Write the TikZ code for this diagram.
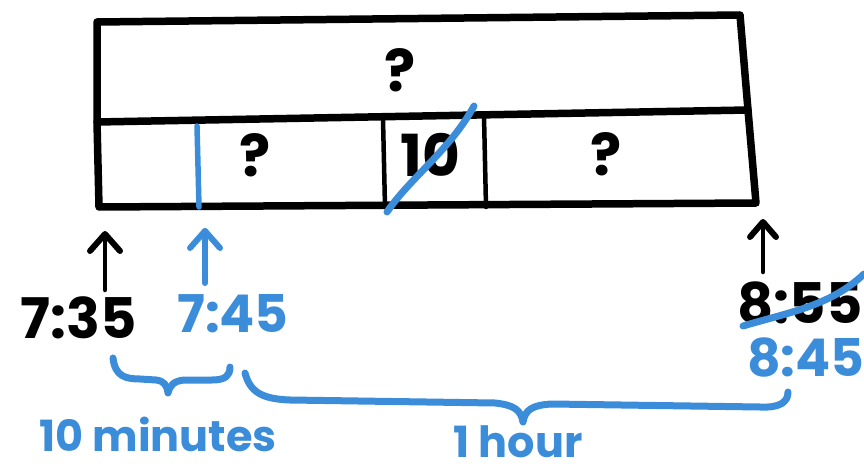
\documentclass[tikz,border=0pt]{standalone}
\usepackage{fontspec}
\setmainfont{Poppins}
\definecolor{mblue}{RGB}{59,140,217}
\begin{document}
\begin{tikzpicture}[x=1pt,y=-1pt,line cap=round,line join=round,
  frame/.style={line width=7.5pt,black},
  divider/.style={line width=4.5pt,black},
  bluepen/.style={mblue,line width=7pt},
  arrowpen/.style={line width=4.5pt},
  qtext/.style={font=\fontsize{58}{58}\selectfont\bfseries,inner sep=0pt},
  timeblack/.style={font=\fontsize{56}{56}\selectfont\bfseries,inner sep=0pt,black},
  timeblue/.style={font=\fontsize{52}{52}\selectfont\bfseries,inner sep=0pt,mblue},
  note/.style={font=\fontsize{43}{43}\selectfont\bfseries,inner sep=0pt,mblue}]
\useasboundingbox (0,0) rectangle (864,473);
% corners of the bar
\coordinate (TL) at (97,22);
\coordinate (TR) at (740,15);
\coordinate (ML) at (97,122);
\coordinate (MR) at (748,110);
\coordinate (BL) at (99,207);
\coordinate (BR) at (756,203);
\draw[frame] (TL) -- (TR) -- (MR) -- (BR) -- (BL) -- (ML) -- cycle;
\draw[frame] (ML) -- (MR);
% dividers
\coordinate (d1t) at (383,119);
\coordinate (d1b) at (385,207);
\coordinate (d2t) at (484,116);
\coordinate (d2b) at (486,207);
\draw[divider] (d1t) -- (d1b);
\draw[divider] (d2t) -- (d2b);
\coordinate (bdt) at (197,126);
\coordinate (bdb) at (199,207);
\draw[bluepen,line width=5.5pt] (bdt) -- (bdb);
% texts in bar
\node[qtext] (qtop) at (400,70) {?};
\node[qtext] (q1) at (255,155) {?};
\node[qtext] (n10) at (430,155) {10};
\node[qtext] (q2) at (606,154) {?};
% strike through 10
\coordinate (s1) at (387,212);
\coordinate (s2) at (474,106);
\draw[bluepen] (s1) .. controls (410,178) and (450,150) .. (s2);
% time labels
\node[timeblack] (t735) at (79,318) {7:35};
\node[timeblue] (t745) at (233,314) {7:45};
\node[timeblack] (t855) at (800,303) {8:55};
\node[timeblue] (t845) at (806,357) {8:45};
% arrows
\coordinate (a1s) at (105,290);
\coordinate (a1e) at (105,234);
\coordinate (a2s) at (205,283);
\coordinate (a2e) at (205,231);
\coordinate (a3s) at (763,272);
\coordinate (a3e) at (763,222);
\draw[arrowpen] (a1s) -- (a1e);
\draw[arrowpen,line width=6pt] (a1e) ++(-15,17) -- (a1e) -- ++(15,17);
\draw[arrowpen,mblue,line width=6pt] (a2s) -- (a2e);
\draw[arrowpen,mblue,line width=6pt] (a2e) ++(-15,17) -- (a2e) -- ++(15,17);
\draw[arrowpen] (a3s) -- (a3e);
\draw[arrowpen,line width=6pt] (a3e) ++(-13,15) -- (a3e) -- ++(13,15);
% strike through 8:55
\coordinate (k1) at (743,326);
\coordinate (k2) at (864,274);
\draw[bluepen] (k1) .. controls (790,312) and (830,306) .. (k2);
% braces
\coordinate (b1l) at (113,358);
\coordinate (b1t) at (168,393);
\coordinate (b1r) at (230,367);
\draw[bluepen] (b1l) .. controls (115,376) and (125,379) .. (140,379) -- (156,380)
  .. controls (164,381) and (167,385) .. (b1t)
  .. controls (170,385) and (174,381) .. (184,380) -- (212,380)
  .. controls (225,380) and (230,376) .. (b1r);
\coordinate (b2l) at (245,373);
\coordinate (b2t) at (523,422);
\coordinate (b2r) at (788,392);
\draw[bluepen] (b2l) .. controls (250,392) and (262,399) .. (290,400) -- (495,403)
  .. controls (514,405) and (521,410) .. (b2t)
  .. controls (525,410) and (532,405) .. (552,404) -- (760,407)
  .. controls (780,408) and (788,402) .. (b2r);
\node[note] (m10) at (158,434) {10 minutes};
\node[note] (h1) at (518,442) {1 hour};
\end{tikzpicture}
\end{document}
